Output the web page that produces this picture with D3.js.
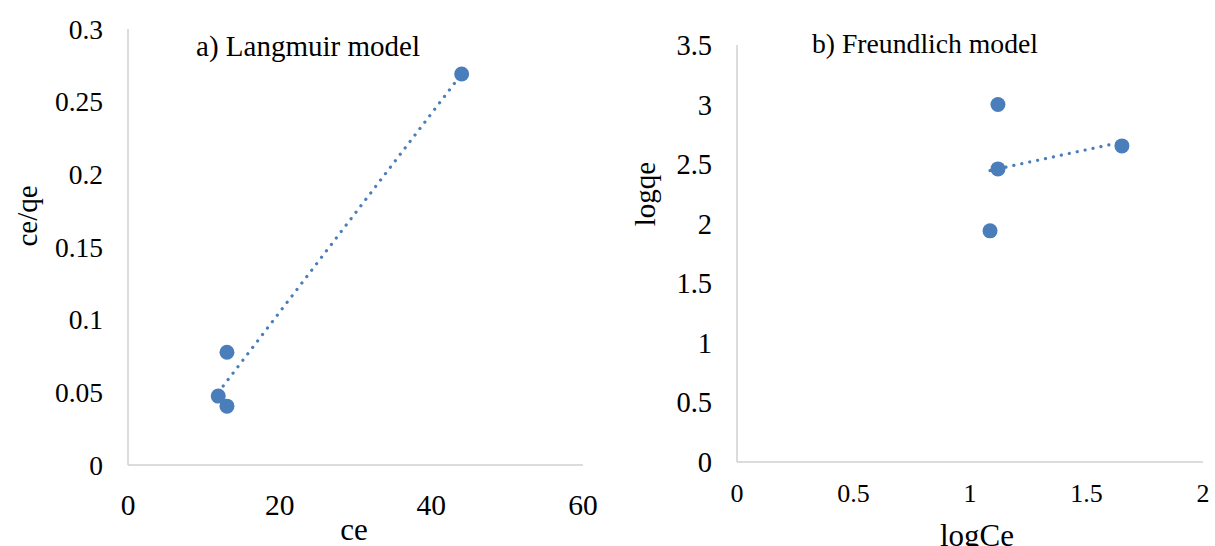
<!DOCTYPE html>
<html>
<head>
<meta charset="utf-8">
<script src="https://d3js.org/d3.v7.min.js"></script>
<style>
    body {
        margin: 0;
        background: #fff;
        font-family: 'Liberation Serif', 'Times New Roman', serif;
    }
</style>
</head>
<body>
<svg id="chart" width="1215" height="546"></svg>
<script>
    // Langmuir panel data
    const langCe = [11.9, 13.05, 13.05, 44];
    const langCeQe = [0.0474, 0.0405, 0.0776, 0.269];
    const langYTicks = [0, 0.05, 0.1, 0.15, 0.2, 0.25, 0.3];
    const langXTicks = [0, 20, 40, 60];

    // Freundlich panel data
    const freLogCe = [1.12, 1.12, 1.086, 1.652];
    const freLogQe = [3.0, 2.46, 1.94, 2.653];
    const freYTicks = [0, 0.5, 1, 1.5, 2, 2.5, 3, 3.5];
    const freXTicks = [0, 0.5, 1, 1.5, 2];

    const blue = '#4a7ebb';
    const svg = d3.select('#chart');

    // least squares fit for the trendline
    function fit(xs, ys) {
        const mx = d3.mean(xs), my = d3.mean(ys);
        let sxy = 0, sxx = 0;
        xs.forEach(function(x, i) {
            sxy += (x - mx) * (ys[i] - my);
            sxx += (x - mx) * (x - mx);
        });
        const b = sxy / sxx;
        return function(x) { return my + b * (x - mx); };
    }

    function panel(o) {
        const g = svg.append('g');
        const x = d3.scaleLinear().domain(o.xDomain).range([o.left, o.right]);
        const y = d3.scaleLinear().domain(o.yDomain).range([o.bottom, o.top]);

        // axis lines
        g.append('line')
            .attr('x1', x(o.xDomain[0])).attr('x2', x(o.xDomain[0]))
            .attr('y1', y(o.yDomain[0])).attr('y2', y(o.yDomain[1]))
            .attr('stroke', '#d0d0d0').attr('stroke-width', 1.5);
        g.append('line')
            .attr('x1', x(o.xDomain[0])).attr('x2', x(o.xDomain[1]))
            .attr('y1', y(o.yDomain[0])).attr('y2', y(o.yDomain[0]))
            .attr('stroke', '#d0d0d0').attr('stroke-width', 1.5);

        // tick labels
        g.selectAll('.yt').data(o.yTicks).enter().append('text')
            .attr('x', o.left - 25)
            .attr('y', function(d) { return y(d); })
            .attr('dy', '0.35em')
            .attr('text-anchor', 'end')
            .style('font-size', o.yTickSize + 'px')
            .text(function(d) { return d; });

        g.selectAll('.xt').data(o.xTicks).enter().append('text')
            .attr('x', function(d) { return x(d); })
            .attr('y', o.xTickY)
            .attr('text-anchor', 'middle')
            .style('font-size', o.xTickSize + 'px')
            .text(function(d) { return d; });

        // trendline
        const f = fit(o.xs, o.ys);
        const x0 = d3.min(o.xs), x1 = d3.max(o.xs);
        g.append('line')
            .attr('x1', x(x0)).attr('y1', y(f(x0)))
            .attr('x2', x(x1)).attr('y2', y(f(x1)))
            .attr('stroke', blue)
            .attr('stroke-width', 3.2)
            .attr('stroke-linecap', 'round')
            .attr('stroke-dasharray', '0.1 8');

        // points
        g.selectAll('circle').data(o.xs).enter().append('circle')
            .attr('cx', function(d) { return x(d); })
            .attr('cy', function(d, i) { return y(o.ys[i]); })
            .attr('r', 7.5)
            .attr('fill', blue);

        // titles
        g.append('text')
            .attr('x', o.titleX).attr('y', o.titleY)
            .attr('text-anchor', 'middle')
            .style('font-size', o.titleSize + 'px')
            .text(o.title);

        g.append('text')
            .attr('x', o.xLabelX).attr('y', o.xLabelY)
            .attr('text-anchor', 'middle')
            .style('font-size', '31px')
            .text(o.xLabel);

        g.append('text')
            .attr('transform', 'translate(' + o.yLabelX + ',' + o.yLabelY + ')rotate(-90)')
            .attr('text-anchor', 'middle')
            .style('font-size', '29px')
            .text(o.yLabel);
    }

    panel({
        xs: langCe, ys: langCeQe,
        xDomain: [0, 60], yDomain: [0, 0.3],
        left: 128, right: 583, top: 29, bottom: 465,
        yTicks: langYTicks, yTickSize: 27.5,
        xTicks: langXTicks, xTickSize: 29.5, xTickY: 515,
        title: 'a) Langmuir model', titleX: 308, titleY: 56, titleSize: 29,
        xLabel: 'ce', xLabelX: 354, xLabelY: 540,
        yLabel: 'ce/qe', yLabelX: 37, yLabelY: 216
    });

    panel({
        xs: freLogCe, ys: freLogQe,
        xDomain: [0, 2], yDomain: [0, 3.5],
        left: 737, right: 1203, top: 45, bottom: 462,
        yTicks: freYTicks, yTickSize: 28.5,
        xTicks: freXTicks, xTickSize: 26, xTickY: 502,
        title: 'b) Freundlich model', titleX: 925, titleY: 53, titleSize: 27.7,
        xLabel: 'logCe', xLabelX: 977, xLabelY: 546,
        yLabel: 'logqe', yLabelX: 655, yLabelY: 194
    });
</script>
</body>
</html>
